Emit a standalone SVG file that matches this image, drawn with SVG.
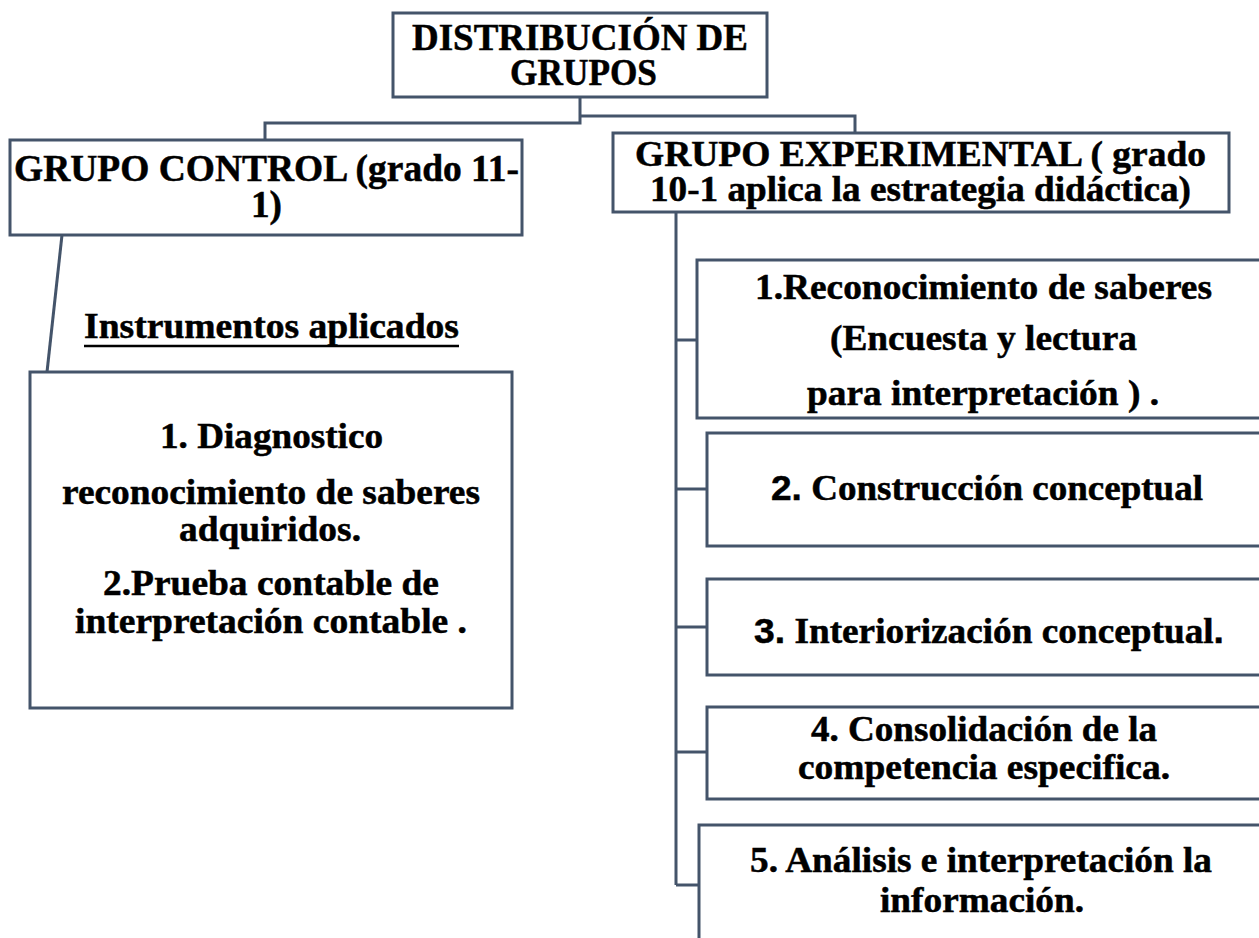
<svg xmlns="http://www.w3.org/2000/svg" width="1259" height="938" viewBox="0 0 1259 938" font-family="'Liberation Serif', 'Times New Roman', Times, serif" font-weight="bold">
<style>
.box{fill:#ffffff;stroke:#44546A;stroke-width:3}
.con{fill:none;stroke:#44546A;stroke-width:3}
text{fill:#000000;stroke:#000000;stroke-width:0.5}
.t37{font-size:37px}
.t35{font-size:36px}
.t33{font-size:35px}
</style>
<rect width="1259" height="938" fill="#ffffff"/>
<g id="connectors">
<polyline class="con" points="580,97 580,123 265,123 265,140"/>
<polyline class="con" points="580,116 855,116 855,133"/>
<line class="con" x1="62" y1="235" x2="47" y2="372"/>
<line class="con" x1="676" y1="212" x2="676" y2="885"/>
<line class="con" x1="676" y1="340" x2="697" y2="340"/>
<line class="con" x1="676" y1="489" x2="707" y2="489"/>
<line class="con" x1="676" y1="627" x2="707" y2="627"/>
<line class="con" x1="676" y1="752" x2="707" y2="752"/>
<line class="con" x1="676" y1="885" x2="699" y2="885"/>
</g>
<g id="distribucion">
<rect class="box" x="393" y="13" width="374" height="84"/>
<text class="t37" x="412" y="50" textLength="336" lengthAdjust="spacingAndGlyphs">DISTRIBUCIÓN DE</text>
<text class="t37" x="510" y="85" textLength="147" lengthAdjust="spacingAndGlyphs">GRUPOS</text>
</g>
<g id="grupo-control">
<rect class="box" x="10" y="140" width="512" height="95"/>
<text class="t37" x="14" y="181" textLength="505" lengthAdjust="spacingAndGlyphs">GRUPO CONTROL (grado 11-</text>
<text class="t37" x="251" y="217" textLength="31" lengthAdjust="spacingAndGlyphs">1)</text>
</g>
<g id="instrumentos-label">
<text class="t35" x="84" y="338" textLength="375" lengthAdjust="spacingAndGlyphs">Instrumentos aplicados</text>
<line x1="84" y1="346" x2="459" y2="346" stroke="#000000" stroke-width="2.5"/>
</g>
<g id="instrumentos">
<rect class="box" x="30" y="372" width="482" height="336"/>
<text class="t35" x="160" y="448" textLength="223" lengthAdjust="spacingAndGlyphs">1. Diagnostico</text>
<text class="t35" x="62" y="504" textLength="418" lengthAdjust="spacingAndGlyphs">reconocimiento de saberes</text>
<text class="t35" x="179" y="541" textLength="182" lengthAdjust="spacingAndGlyphs">adquiridos.</text>
<text class="t35" x="103" y="595" textLength="336" lengthAdjust="spacingAndGlyphs">2.Prueba contable de</text>
<text class="t35" x="75" y="633" textLength="392" lengthAdjust="spacingAndGlyphs">interpretación contable .</text>
</g>
<g id="grupo-experimental">
<rect class="box" x="613" y="133" width="616" height="79"/>
<text class="t33" x="635" y="166" textLength="571" lengthAdjust="spacingAndGlyphs">GRUPO EXPERIMENTAL ( grado</text>
<text class="t33" x="650" y="201" textLength="541" lengthAdjust="spacingAndGlyphs">10-1 aplica la estrategia didáctica)</text>
</g>
<g id="paso1">
<rect class="box" x="697" y="260" width="580" height="158"/>
<text class="t33" x="755" y="299" textLength="457" lengthAdjust="spacingAndGlyphs">1.Reconocimiento de saberes</text>
<text class="t33" x="830" y="350" textLength="307" lengthAdjust="spacingAndGlyphs">(Encuesta y lectura</text>
<text class="t33" x="807" y="405" textLength="352" lengthAdjust="spacingAndGlyphs">para interpretación ) .</text>
</g>
<g id="paso2">
<rect class="box" x="707" y="433" width="570" height="113"/>
<text class="t33" x="771" y="500" textLength="432" lengthAdjust="spacingAndGlyphs"><tspan font-family="'Liberation Sans', Arial, sans-serif">2.</tspan> Construcción conceptual</text>
</g>
<g id="paso3">
<rect class="box" x="707" y="579" width="570" height="96"/>
<text class="t33" x="754" y="643" textLength="470" lengthAdjust="spacingAndGlyphs"><tspan font-family="'Liberation Sans', Arial, sans-serif">3.</tspan> Interiorización conceptual<tspan font-family="'Liberation Sans', Arial, sans-serif">.</tspan></text>
</g>
<g id="paso4">
<rect class="box" x="707" y="707" width="570" height="92"/>
<text class="t33" x="811" y="741" textLength="346" lengthAdjust="spacingAndGlyphs">4. Consolidación de la</text>
<text class="t33" x="798" y="779" textLength="372" lengthAdjust="spacingAndGlyphs">competencia especifica.</text>
</g>
<g id="paso5">
<rect class="box" x="699" y="825" width="578" height="130"/>
<text class="t33" x="750" y="872" textLength="462" lengthAdjust="spacingAndGlyphs">5. Análisis e interpretación la</text>
<text class="t33" x="880" y="912" textLength="204" lengthAdjust="spacingAndGlyphs">información.</text>
</g>
</svg>
